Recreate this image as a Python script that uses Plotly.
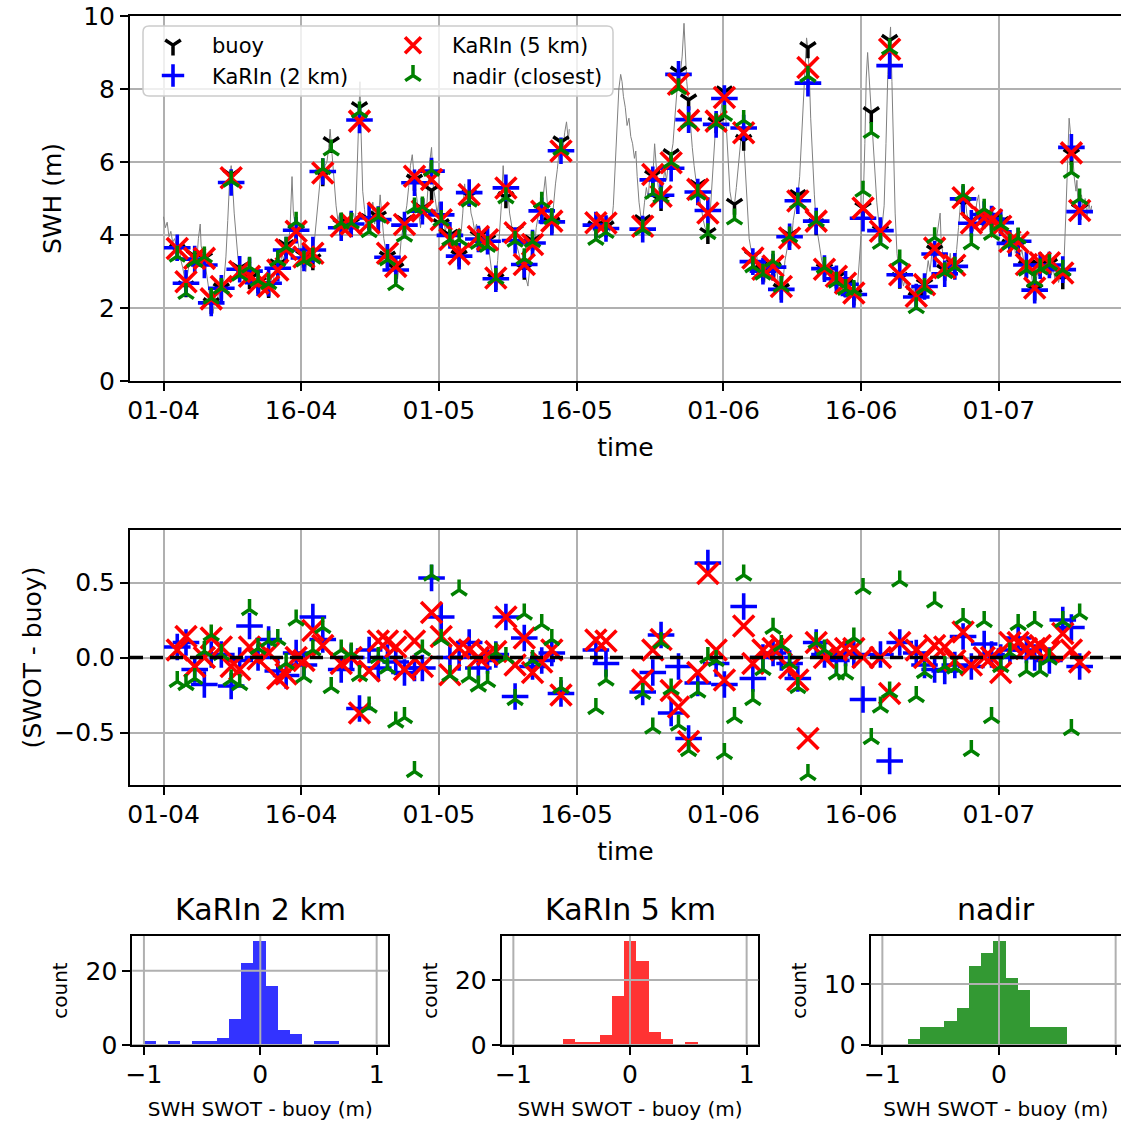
import pandas as pd
import plotly.graph_objects as go

START = pd.Timestamp("2023-04-01")
FONT = "DejaVu Sans"
W, H = 1121, 1123

# ---- SWOT overpasses: day offset from START, buoy SWH at overpass time ----
obs_day = [1.5, 2.45, 3.4, 4.45, 5.2, 6.3, 7.37, 8.3, 9.37, 10.3, 11.45, 12.45, 13.36,
           14.45, 15.3, 16.27, 17.35, 18.27, 19.36, 20.45, 21.35, 22.4, 23.4, 24.4,
           25.3, 26.25, 27.34, 28.2, 29.2, 30.25, 31.2, 32.2, 33.3, 34.3, 35.3, 36.2,
           37.3, 38.3, 39.3, 40.2, 41.2, 42.3, 43.3, 47.1, 48.2, 52.2, 53.3, 54.2, 55.3,
           56.1, 57.2, 58.2, 59.3, 60.2, 61.1, 62.2, 63.2, 64.2, 65.3, 66.4, 67.3, 68.2,
           69.1, 70.2, 71.1, 72.0, 73.3, 74.3, 75.2, 76.2, 77.1, 78.1, 79.1, 80.2, 82.0,
           82.9, 84.0, 85.1, 86.2, 87.1, 88.0, 89.4, 90.2, 91.2, 92.2, 93.1, 94.0, 94.9,
           95.5, 96.5, 97.96, 98.9, 99.8]
buoy_obs = [3.58, 2.58, 3.42, 3.36, 2.12, 2.52, 5.63, 3.08, 2.80, 2.69, 2.56, 3.18, 3.71,
            4.10, 3.42, 3.32, 5.62, 6.53, 4.28, 4.30, 7.49, 4.42, 4.49, 3.39, 3.07, 4.37,
            5.50, 4.72, 5.22, 4.28, 3.99, 3.42, 5.06, 3.96, 3.85, 2.78, 5.02, 4.11, 3.06,
            3.84, 4.68, 4.33, 6.55, 4.22, 4.22, 4.39, 5.61, 4.94, 6.20, 8.46, 7.70, 5.35,
            4.04, 7.07, 7.92, 4.84, 6.59, 3.41, 3.01, 3.09, 2.51, 3.99, 5.08, 9.13, 4.28,
            3.06, 2.82, 2.62, 2.35, 4.74, 7.35, 4.10, 9.33, 2.81, 2.27, 2.64, 3.56, 3.03,
            3.19, 4.85, 4.38, 4.47, 4.42, 4.34, 3.72, 3.70, 3.13, 2.49, 3.16, 3.20, 2.80,
            6.20, 4.70]

# ---- SWOT minus buoy (m); None where no valid estimate ----
diff_karin2 = [0.07, 0.10, -0.08, -0.18, 0.02, 0.02, -0.19, -0.02, 0.21, 0.00, 0.12, -0.09,
               -0.12, 0.03, -0.05, 0.27, 0.12, None, -0.08, 0.00, -0.34, 0.05, -0.07, 0.00,
               -0.03, -0.10, -0.07, -0.07, 0.53, 0.27, 0.00, 0.00, 0.10, -0.07, -0.02, 0.02,
               0.27, -0.26, 0.13, -0.06, -0.02, 0.03, -0.24, 0.05, -0.04, -0.23, -0.10, 0.15,
               -0.37, -0.06, -0.54, -0.17, 0.63, -0.04, -0.18, None, 0.34, -0.14, 0.00, 0.03,
               0.00, -0.04, -0.14, -0.97, 0.10, 0.02, -0.02, 0.03, 0.02, -0.28, None, 0.02,
               -0.69, 0.10, 0.03, -0.05, -0.08, -0.09, -0.05, 0.14, -0.06, 0.09, 0.02, 0.00,
               0.05, 0.13, 0.05, 0.00, 0.00, -0.02, 0.25, 0.20, -0.06]
diff_karin5 = [0.05, 0.14, -0.06, 0.00, 0.13, 0.07, -0.06, -0.08, 0.07, -0.01, 0.03, -0.14,
               -0.11, 0.00, -0.02, 0.18, 0.08, None, -0.04, 0.00, -0.37, -0.09, 0.11, 0.11,
               0.07, -0.08, 0.11, -0.06, 0.30, 0.14, -0.115, 0.063, 0.05, 0.00, 0.02, 0.04,
               0.27, -0.05, 0.13, -0.10, -0.03, 0.05, -0.25, 0.116, 0.11, -0.15, 0.05, 0.12,
               -0.22, -0.33, -0.56, -0.10, 0.56, 0.05, -0.15, None, 0.21, -0.04, 0.05, 0.06,
               0.08, -0.07, -0.15, -0.54, 0.10, 0.00, 0.05, 0.06, 0.06, 0.00, None, 0.00,
               -0.24, 0.10, 0.05, 0.00, 0.08, 0.07, -0.02, 0.17, -0.05, 0.00, 0.00, -0.10,
               0.10, 0.10, 0.06, 0.06, 0.08, 0.04, 0.16, 0.05, -0.03]
diff_nadir = [-0.16, -0.18, -0.14, 0.04, 0.15, 0.02, -0.15, -0.18, 0.32, 0.06, 0.11, 0.12,
              -0.04, 0.25, -0.13, 0.05, 0.20, -0.20, 0.05, 0.03, -0.12, -0.33, 0.00, -0.07,
              -0.43, -0.40, -0.76, 0.05, 0.55, 0.12, -0.12, 0.45, -0.13, -0.19, -0.16, 0.03,
              0.00, -0.28, 0.29, -0.02, 0.22, 0.12, -0.20, -0.34, -0.15, -0.24, -0.47, 0.10,
              -0.21, -0.45, -0.62, -0.23, 0.00, -0.02, -0.64, -0.40, 0.55, -0.28, -0.08, 0.195,
              0.08, -0.04, -0.20, -0.78, 0.10, 0.05, -0.11, -0.11, 0.13, 0.46, -0.54, -0.33,
              -0.23, 0.51, -0.26, -0.10, 0.37, -0.06, -0.07, 0.26, -0.62, 0.24, -0.40, -0.06,
              0.03, 0.22, -0.09, 0.24, -0.09, -0.01, 0.24, -0.48, 0.29]

# ---- continuous buoy record (day offset, SWH); None marks a data gap ----
buoy_day = [0.0, 0.2, 0.4, 0.6, 0.8, 1.0, 1.2, 1.5, 1.7, 1.9, 2.1, 2.3, 2.45, 2.6, 2.8, 3.0,
            3.2, 3.4, 3.6, 3.8, 4.0, 4.1, 4.3, 4.45, 4.6, 4.8, 5.0, 5.2, 5.4, 5.6, 5.8, 6.0,
            6.3, 6.6, 6.8, 7.0, 7.2, 7.37, 7.5, 7.7, 7.9, 8.1, 8.3, 8.5, 8.7, 8.9, 9.1, 9.37,
            9.6, 9.8, 10.0, 10.3, 10.5, 10.7, 10.9, 11.1, 11.3, 11.45, 11.7, 11.9, 12.1,
            12.45, 12.7, 12.9, 13.1, 13.36, 13.6, 13.8, 14.0, 14.15, 14.45, 14.7, 14.9, 15.1,
            15.3, 15.5, 15.7, 15.9, 16.1, 16.27, 16.5, 16.7, 16.9, 17.1, 17.35, 17.6, 17.8,
            18.0, 18.15, 18.27, 18.4, 18.6, 18.8, 19.0, 19.2, 19.36, 19.6, 19.8, 20.0, 20.2,
            20.45, 20.7, 20.9, 21.1, 21.25, 21.4, 21.5, 21.7, 21.9, 22.1, 22.4, 22.6, 22.8,
            23.0, 23.2, 23.4, 23.6, 23.8, 24.0, 24.2, 24.4, 24.6, 24.8, 25.0, 25.3, 25.5,
            25.7, 25.9, 26.1, 26.25, 26.5, 26.7, 26.9, 27.1, 27.34, 27.6, 27.8, 28.0, 28.2,
            28.4, 28.6, 28.8, 29.0, 29.2, 29.4, 29.6, 29.8, 30.0, 30.25, 30.5, 30.7, 30.9,
            31.2, 31.4, 31.6, 31.8, 32.0, 32.2, 32.4, 32.6, 32.8, 33.0, 33.3, 33.5, 33.7,
            33.9, 34.1, 34.3, 34.5, 34.7, 34.9, 35.1, 35.3, 35.5, 35.7, 35.9, 36.2, 36.4,
            36.6, 36.8, 37.0, 37.15, 37.3, 37.5, 37.7, 37.9, 38.1, 38.3, 38.5, 38.7, 38.9,
            39.1, 39.3, 39.5, 39.7, 39.9, 40.2, 40.4, 40.6, 40.8, 41.0, 41.2, 41.4, 41.6,
            41.8, 42.0, 42.3, 42.5, 42.7, 42.9, 43.1, 43.3, 43.5, 43.7, 43.9, 44.1, 44.2,
            45.5, 46.8, 47.1, 47.3, 47.5, 47.7, 47.9, 48.2, 48.4, 48.6, 48.8, 49.0, 49.2,
            49.4, 49.6, 49.8, 49.95, 50.1, 50.3, 50.5, 50.7, 50.9, 51.1, 51.3, 51.45, 51.6,
            51.8, 52.0, 52.2, 52.4, 52.6, 52.8, 53.0, 53.3, 53.5, 53.7, 53.9, 54.2, 54.4,
            54.6, 54.8, 55.0, 55.3, 55.5, 55.7, 55.9, 56.1, 56.3, 56.5, 56.7, 56.8, 57.0,
            57.2, 57.4, 57.6, 57.8, 58.0, 58.2, 58.4, 58.6, 58.8, 59.0, 59.3, 59.5, 59.7,
            59.9, 60.1, 60.2, 60.4, 60.6, 60.8, 61.0, 61.1, 61.3, 61.5, 61.7, 61.9, 62.2,
            62.4, 62.6, 62.8, 63.0, 63.2, 63.4, 63.6, 63.8, 64.0, 64.2, 64.4, 64.6, 64.8,
            65.0, 65.3, 65.5, 65.7, 65.9, 66.1, 66.4, 66.6, 66.8, 67.0, 67.3, 67.5, 67.7,
            67.9, 68.2, 68.4, 68.6, 68.8, 69.1, 69.3, 69.5, 69.7, 69.9, 70.05, 70.2, 70.35,
            70.5, 70.7, 70.9, 71.1, 71.3, 71.5, 71.7, 72.0, 72.2, 72.4, 72.6, 72.8, 73.0,
            73.3, 73.5, 73.7, 73.9, 74.1, 74.3, 74.5, 74.7, 74.9, 75.2, 75.4, 75.6, 75.8,
            76.0, 76.2, 76.4, 76.55, 76.7, 76.8, 76.95, 77.1, 77.3, 77.5, 77.7, 77.9, 78.1,
            78.3, 78.5, 78.7, 78.9, 79.1, 79.2, 79.35, 79.5, 79.7, 79.9, 80.2, 80.4, 80.6,
            80.8, 81.0, 81.2, 81.4, 81.6, 81.8, 82.0, 82.2, 82.4, 82.6, 82.9, 83.1, 83.3,
            83.5, 83.7, 84.0, 84.2, 84.4, 84.6, 84.7, 84.9, 85.1, 85.3, 85.5, 85.7, 85.9,
            86.2, 86.4, 86.6, 86.8, 87.1, 87.3, 87.5, 87.7, 88.0, 88.2, 88.4, 88.6, 88.8,
            89.0, 89.2, 89.4, 89.6, 89.8, 90.0, 90.2, 90.4, 90.6, 90.8, 91.0, 91.2, 91.4,
            91.6, 91.8, 92.0, 92.2, 92.4, 92.6, 92.8, 93.1, 93.3, 93.5, 93.7, 94.0, 94.2,
            94.4, 94.6, 94.8, 94.9, 95.1, 95.3, 95.5, 95.7, 95.9, 96.1, 96.3, 96.5, 96.7,
            96.9, 97.1, 97.3, 97.5, 97.7, 97.96, 98.1, 98.3, 98.5, 98.65, 98.8, 98.9, 99.0,
            99.2, 99.4, 99.5, 99.6, 99.8, 100.0, 100.2, 100.4, 100.6, 100.8, 101.0, 101.1]
buoy_swh = [4.5, 4.2, 4.35, 3.95, 4.1, 3.8, 3.9, 3.6, 3.75, 3.3, 3.1, 2.8, 2.6, 2.9, 3.2, 3.5,
            3.3, 3.45, 3.2, 3.9, 4.3, 3.7, 3.5, 3.35, 3.1, 2.7, 2.4, 2.1, 1.85, 2.3, 2.05, 2.45,
            2.55, 2.8, 3.4, 4.4, 5.5, 5.9, 5.5, 4.6, 3.9, 3.4, 3.1, 2.9, 3.2, 2.7, 3.0, 2.8,
            2.6, 2.9, 2.55, 2.7, 2.4, 2.85, 2.5, 2.7, 2.35, 2.55, 2.9, 2.6, 3.0,
            3.2, 3.1, 3.5, 3.3, 3.7, 3.6, 4.3, 5.6, 4.6, 4.1, 3.8, 3.4, 3.1,
            3.4, 3.0, 3.5, 3.2, 3.6, 3.35, 4.0, 4.6, 5.2, 5.6, 5.6, 5.9, 6.0,
            6.4, 6.9, 6.5, 6.1, 5.3, 4.8, 4.4, 4.6, 4.2, 4.5, 4.1, 4.4, 4.0,
            4.3, 4.6, 4.3, 5.8, 7.3, 8.2, 7.0, 5.2, 4.7, 4.2, 4.4, 4.0, 4.9,
            4.3, 4.7, 4.4, 5.1, 4.5, 3.9, 3.6, 3.4, 3.5, 3.2, 3.0, 3.1, 2.8,
            3.3, 3.9, 4.2, 4.4, 4.8, 5.3, 5.9, 6.2, 5.5, 5.0, 4.6, 4.2, 4.7,
            5.0, 4.5, 5.2, 6.0, 6.4, 5.3, 5.0, 4.6, 4.9, 4.3, 4.5, 4.1, 4.3,
            4.0, 3.7, 3.9, 3.5, 3.7, 3.4, 3.9, 4.6, 5.4, 5.0, 5.1, 4.6, 4.4,
            4.1, 4.3, 3.9, 4.2, 3.8, 4.0, 3.6, 3.9, 3.5, 3.1, 2.9, 2.8, 3.3,
            4.0, 4.8, 5.9, 5.2, 5.0, 5.2, 4.6, 4.3, 4.0, 4.1, 3.7, 3.5, 3.3,
            3.2, 3.0, 2.8, 2.6, 3.1, 3.8, 3.6, 4.2, 4.5, 4.9, 4.7, 5.2, 5.6,
            4.9, 4.6, 4.3, 4.9, 5.4, 5.8, 6.3, 6.55, 6.3, 6.8, 7.1, 6.6, 6.9,
            None, 4.1, 4.2, 4.5, 4.1, 4.4, 4.0, 4.2, 4.5, 4.1, 4.3, 4.8, 5.9,
            7.2, 8.0, 8.4, 8.2, 7.8, 7.5, 7.0, 7.2, 6.7, 6.5, 6.1, 6.3, 5.6,
            4.9, 4.5, 4.4, 4.9, 5.3, 5.0, 5.7, 5.6, 6.5, 5.8, 5.3, 4.9, 5.3,
            5.8, 5.5, 6.0, 6.2, 6.5, 7.2, 8.0, 8.5, 8.4, 8.9, 9.8, 9.2, 8.2,
            7.7, 7.0, 6.4, 5.9, 5.5, 5.35, 5.0, 4.7, 4.4, 4.2, 4.0, 4.4, 5.2,
            6.2, 6.8, 7.07, 7.3, 7.1, 7.5, 8.0, 7.9, 6.9, 6.0, 5.2, 4.9, 4.84,
            5.3, 5.9, 6.4, 6.9, 6.6, 5.6, 4.6, 3.9, 3.6, 3.4, 3.2, 3.5, 3.0,
            3.3, 3.0, 2.7, 3.2, 2.9, 3.3, 3.1, 2.8, 3.1, 2.6, 2.5, 2.8, 3.3,
            3.6, 4.0, 3.8, 4.4, 4.7, 5.1, 5.6, 6.6, 7.7, 8.6, 9.4, 9.1, 8.4,
            7.2, 6.0, 5.1, 4.3, 4.0, 3.6, 3.3, 3.06, 2.9, 3.2, 2.7, 3.0, 2.6,
            2.82, 2.5, 2.9, 2.6, 2.3, 2.6, 2.4, 2.8, 2.3, 2.35, 2.2, 2.6, 3.4,
            4.2, 4.74, 6.5, 8.3, 9.0, 8.6, 7.8, 7.35, 6.5, 5.6, 4.9, 4.4, 4.1,
            4.3, 4.8, 6.5, 8.4, 9.33, 9.7, 8.2, 6.3, 4.6, 3.5, 2.81, 2.9, 2.6,
            2.8, 2.5, 2.7, 2.4, 2.6, 2.3, 2.27, 2.5, 2.2, 2.6, 2.64, 2.9, 3.3,
            3.0, 3.5, 3.56, 3.9, 4.3, 4.6, 3.9, 3.4, 3.03, 3.4, 3.1, 3.5, 3.0,
            3.19, 3.6, 4.2, 4.8, 4.85, 5.1, 4.6, 4.4, 4.38, 4.1, 4.5, 4.9, 5.1,
            4.5, 4.2, 4.47, 4.7, 4.3, 4.5, 4.42, 4.2, 4.6, 4.3, 4.5, 4.34, 4.0,
            4.2, 3.8, 4.0, 3.72, 3.6, 3.9, 3.5, 3.7, 3.4, 3.6, 3.3, 3.13, 3.0,
            3.3, 2.8, 2.6, 2.49, 2.8, 3.2, 3.16, 3.4, 3.0, 3.3, 3.0, 3.2, 2.9,
            3.1, 2.8, 3.0, 2.7, 2.9, 2.8, 3.3, 4.6, 6.0, 7.2, 6.8, 6.2, 6.4,
            5.6, 5.2, 5.5, 4.9, 4.7, 5.1, 4.6, 5.0, 4.5, 4.9, 4.6, 4.8]

# ---- histogram bins of SWOT - buoy (left edge, bin width, counts) ----
hist2_start, hist2_width = -1.0, 0.1048
hist2_counts = [1, 0, 1, 0, 1, 1, 2, 7, 22, 28, 16, 4, 3, 0, 1, 1]
hist5_start, hist5_width = -0.577, 0.105
hist5_counts = [2, 1, 1, 3, 15, 32, 26, 4, 2, 0, 1]
histn_start, histn_width = -0.786, 0.105
histn_counts = [1, 3, 3, 4, 6, 13, 15, 17, 11, 9, 3, 3, 3]

date_ticks = ["2023-04-01", "2023-04-16", "2023-05-01", "2023-05-16",
              "2023-06-01", "2023-06-16", "2023-07-01"]


def to_time(days):
    return [START + pd.Timedelta(days=d) for d in days]


def add(vals, diffs):
    return [None if d is None else v + d for v, d in zip(vals, diffs)]


obs_time = to_time(obs_day)
karin2 = add(buoy_obs, diff_karin2)
karin5 = add(buoy_obs, diff_karin5)
nadir = add(buoy_obs, diff_nadir)


def px(x):
    return x / W


def py(y):
    return 1 - y / H


BLACK, BLUE, RED, GREEN = "#000000", "#0000ff", "#ff0000", "#008000"
mk = {
    "buoy": dict(symbol="y-down", size=13, color=BLACK, line=dict(width=3.5, color=BLACK)),
    "k2": dict(symbol="cross-thin", size=19, color=BLUE, line=dict(width=3.6, color=BLUE)),
    "k5": dict(symbol="x-thin", size=21, color=RED, line=dict(width=3.6, color=RED)),
    "nad": dict(symbol="y-up", size=13, color=GREEN, line=dict(width=3.5, color=GREEN)),
}

fig = go.Figure()

# top panel: buoy record and collocated estimates
fig.add_trace(go.Scatter(x=to_time(buoy_day), y=buoy_swh, mode="lines",
                         line=dict(color="#808080", width=1), showlegend=False,
                         xaxis="x", yaxis="y", hoverinfo="skip"))
fig.add_trace(go.Scatter(x=obs_time, y=buoy_obs, mode="markers", marker=mk["buoy"],
                         name="buoy", legend="legend", legendrank=1, xaxis="x", yaxis="y"))
fig.add_trace(go.Scatter(x=obs_time, y=karin2, mode="markers", marker=mk["k2"],
                         name="KaRIn (2 km)", legend="legend", legendrank=2,
                         xaxis="x", yaxis="y"))
fig.add_trace(go.Scatter(x=obs_time, y=karin5, mode="markers", marker=mk["k5"],
                         name="KaRIn (5 km)", legend="legend2", legendrank=3,
                         xaxis="x", yaxis="y"))
fig.add_trace(go.Scatter(x=obs_time, y=nadir, mode="markers", marker=mk["nad"],
                         name="nadir (closest)", legend="legend2", legendrank=4,
                         xaxis="x", yaxis="y"))

# middle panel: differences
for diffs, key in [(diff_karin2, "k2"), (diff_karin5, "k5"), (diff_nadir, "nad")]:
    fig.add_trace(go.Scatter(x=obs_time, y=diffs, mode="markers", marker=mk[key],
                             showlegend=False, xaxis="x2", yaxis="y2"))

# histograms
hist_specs = [
    (hist2_start, hist2_width, hist2_counts, "rgba(0,0,255,0.8)", "x3", "y3"),
    (hist5_start, hist5_width, hist5_counts, "rgba(255,0,0,0.8)", "x4", "y4"),
    (histn_start, histn_width, histn_counts, "rgba(0,128,0,0.8)", "x5", "y5"),
]
for start, width, counts, color, xa, ya in hist_specs:
    centers = [start + width * (i + 0.5) for i in range(len(counts))]
    fig.add_trace(go.Bar(x=centers, y=counts, width=width, marker=dict(color=color, line=dict(width=0)),
                         showlegend=False, xaxis=xa, yaxis=ya))

TICKF = dict(family=FONT, size=25, color="black")
GRID = "#b0b0b0"
common_axis = dict(showline=True, linecolor="black", linewidth=2, ticks="outside",
                   ticklen=8, tickwidth=2, tickcolor="black", tickfont=TICKF,
                   zeroline=False, showgrid=True, gridcolor=GRID, gridwidth=2,
                   automargin=False)

t_left = START + pd.Timedelta(days=(130 - 163.5) / 9.18)
t_right = START + pd.Timedelta(days=(W - 163.5) / 9.18)
time_axis = dict(common_axis, type="date", range=[t_left, t_right], tickvals=date_ticks,
                 tickformat="%d-%m", mirror=True, ticklabelstandoff=-2,
                 title=dict(text="time", font=dict(family=FONT, size=25), standoff=14))

layout = dict(
    width=W, height=H, margin=dict(l=0, r=0, t=0, b=0, autoexpand=False),
    paper_bgcolor="white", plot_bgcolor="white",
    font=dict(family=FONT, color="black"),
    xaxis=dict(time_axis, domain=[px(130), 1.0], anchor="y"),
    yaxis=dict(common_axis, domain=[py(381), py(16)], range=[0, 10], dtick=2,
               anchor="x", title=dict(text="SWH (m)", font=dict(family=FONT, size=25), standoff=14)),
    xaxis2=dict(time_axis, domain=[px(130), 1.0], anchor="y2"),
    yaxis2=dict(common_axis, domain=[py(785), py(530)], range=[-0.85, 0.85],
                tickvals=[-0.5, 0, 0.5], tickformat=".1f", anchor="x2",
                title=dict(text="(SWOT - buoy)", font=dict(family=FONT, size=25), standoff=6)),
    bargap=0,
    showlegend=True,
)

hist_axes = [
    ("xaxis3", "yaxis3", "x3", "y3", 132.3, 388.3, 1.1, [0, 20], 29.4),
    ("xaxis4", "yaxis4", "x4", "y4", 501.7, 758.3, 1.1, [0, 20], 33.6),
    ("xaxis5", "yaxis5", "x5", "y5", 870.7, W, -1.1 + 2.2 * (W - 870.7) / 256.6, [0, 10], 17.85),
]
hist_titles = ["KaRIn 2 km", "KaRIn 5 km", "nadir"]
shapes = []
annotations = []
for (xk, yk, xa, ya, x0, x1, xmax, yt, ymax), ttl in zip(hist_axes, hist_titles):
    layout[xk] = dict(common_axis, domain=[px(x0), px(x1)], range=[-1.1, xmax],
                      tickvals=[-1, 0, 1], anchor=ya, showgrid=False, mirror=True,
                      ticklabelstandoff=-2,
                      title=dict(text="SWH SWOT - buoy (m)", font=dict(family=FONT, size=20),
                                 standoff=14))
    layout[yk] = dict(common_axis, domain=[py(1045), py(936)], range=[0, ymax],
                      tickvals=yt, anchor=xa, showgrid=False, mirror=(x1 < W),
                      title=dict(text="count", font=dict(family=FONT, size=20), standoff=12))
    # grid drawn over the bars
    for v in [-1, 0, 1]:
        shapes.append(dict(type="line", xref=xa, yref=ya + " domain", x0=v, x1=v, y0=0, y1=1,
                           line=dict(color=GRID, width=2), layer="above"))
    for v in yt:
        shapes.append(dict(type="line", xref=xa + " domain", yref=ya, x0=0, x1=1, y0=v, y1=v,
                           line=dict(color=GRID, width=2), layer="above"))
    annotations.append(dict(text=ttl, xref="paper", yref="paper", x=px((x0 + min(x1, x0 + 256.6)) / 2),
                            y=py(909), xanchor="center", yanchor="middle", showarrow=False,
                            font=dict(family=FONT, size=30, color="black")))

# zero reference in the difference panel
shapes.append(dict(type="line", xref="x2 domain", yref="y2", x0=0, x1=1, y0=0, y1=0,
                   line=dict(color="black", width=3.5, dash="13px,7px"), layer="above"))


# legend frame (rounded, translucent)
def rounded_rect(x0, y0, x1, y1, r=6):
    rx, ry = r / W, r / H
    X0, X1, Y0, Y1 = px(x0), px(x1), py(y1), py(y0)
    return (f"M{X0 + rx},{Y1} L{X1 - rx},{Y1} Q{X1},{Y1} {X1},{Y1 - ry} "
            f"L{X1},{Y0 + ry} Q{X1},{Y0} {X1 - rx},{Y0} L{X0 + rx},{Y0} "
            f"Q{X0},{Y0} {X0},{Y0 + ry} L{X0},{Y1 - ry} Q{X0},{Y1} {X0 + rx},{Y1} Z")


shapes.append(dict(type="path", xref="paper", yref="paper", path=rounded_rect(143, 26, 613, 96),
                   fillcolor="rgba(255,255,255,0.8)", line=dict(color="#cccccc", width=1.5),
                   layer="above"))

leg_common = dict(xanchor="left", yanchor="top", bgcolor="rgba(0,0,0,0)", borderwidth=0,
                  font=dict(family=FONT, size=21, color="black"), tracegroupgap=0,
                  orientation="v", itemwidth=68)
layout["legend"] = dict(leg_common, x=px(134), y=py(25))
layout["legend2"] = dict(leg_common, x=px(374), y=py(25))
layout["shapes"] = shapes
layout["annotations"] = annotations

fig.update_layout(**layout)
fig.write_html("out.html")
